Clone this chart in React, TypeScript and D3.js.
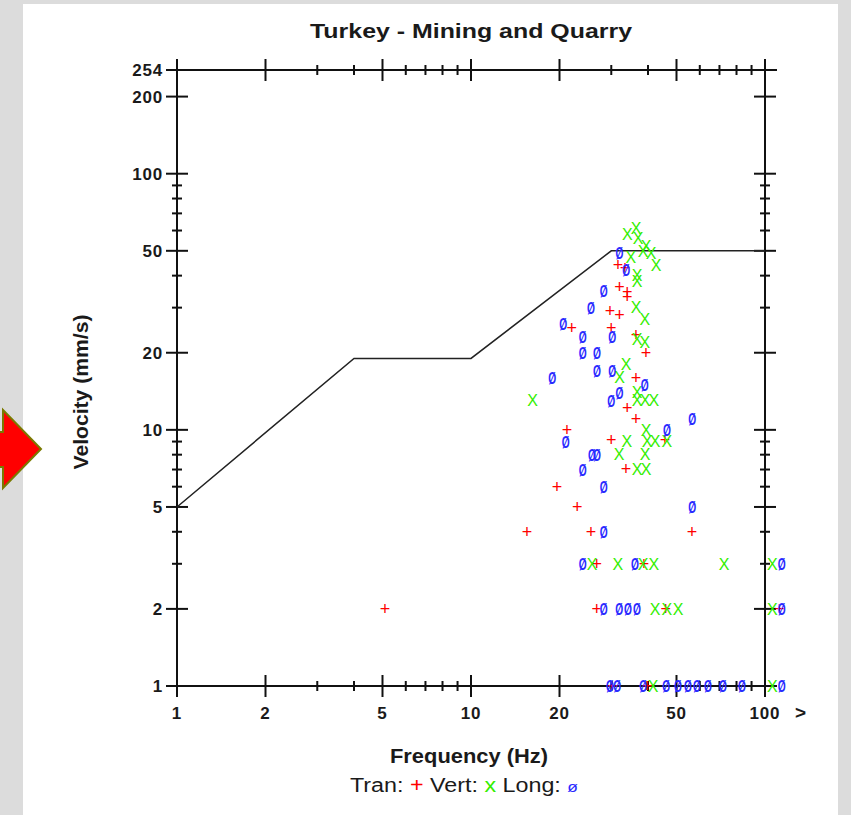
import React from "react";
import * as d3 from "d3";

// Tran (red +)
const tranFreq = [5.1, 15.5, 19.6, 21.2, 22, 23, 25.6, 26.8, 26.8, 29.7, 30, 30, 31.6, 33.4, 32, 34, 34, 32, 36.4, 39.4, 36.4, 34, 36.4, 33.7, 45.7, 56.5, 38.8, 46, 30.2, 39.7, 112];
const tranVel = [2, 4, 6, 10, 25, 5, 4, 3, 2, 29, 25, 9.1, 44, 43, 36, 34.6, 33, 28, 23.5, 20, 16, 12.2, 11, 7, 9.1, 4, 3, 2, 1, 1, 2];

// Vert (green X)
const vertFreq = [34, 36.4, 37, 39.4, 38.5, 41, 42.6, 35, 36.7, 36.7, 36.4, 39, 36.7, 39, 33.7, 32, 16.2, 36.7, 36.7, 39.1, 41.9, 39.4, 33.9, 39.7, 42.3, 46.4, 31.9, 39.1, 36.7, 39.4, 25.8, 31.6, 38.5, 41.9, 72.6, 42.3, 46.4, 50.6, 41.6, 106, 106, 106];
const vertVel = [58, 61, 56, 52, 50, 49, 44, 47, 40, 38, 30, 27, 22.5, 22, 18, 16, 13, 14, 13, 13, 13, 10, 9, 9, 9, 9, 8, 8, 7, 7, 3, 3, 3, 3, 3, 2, 2, 2, 1, 3, 2, 1];

// Long (blue ø)
const longFreq = [32, 33.7, 28.3, 25.6, 20.6, 24, 30.2, 24, 26.8, 26.8, 30.2, 18.9, 39, 32, 30, 56.5, 46.4, 21, 25.8, 26.8, 24, 28.3, 56.5, 28.3, 24, 36.1, 28.3, 31.9, 34.2, 36.7, 29.7, 31.4, 38.5, 46.1, 50.6, 54.7, 58.7, 64, 71.9, 83.5, 114, 114, 114];
const longVel = [49, 42, 35, 30, 26, 23, 23, 20, 20, 17, 17, 16, 15, 14, 13, 11, 10, 9, 8, 8, 7, 6, 5, 4, 3, 3, 2, 2, 2, 2, 1, 1, 1, 1, 1, 1, 1, 1, 1, 1, 3, 2, 1];

// limit curve
const limitFreq = [1, 4, 10, 30, 100];
const limitVel = [5, 19, 19, 50, 50];

const xMajor = [1, 2, 5, 10, 20, 50, 100];
const xMinor = [3, 4, 6, 7, 8, 9, 30, 40, 60, 70, 80, 90];
const yMajor = [1, 2, 5, 10, 20, 50, 100, 200, 254];
const yMinor = [3, 4, 6, 7, 8, 9, 30, 40, 60, 70, 80, 90];

const FONT = "'Liberation Sans', Arial, sans-serif";
const INK = "#1a1a1a";

const App = () => {
  const x = d3.scaleLog().domain([1, 100]).range([177, 765]);
  const y = d3.scaleLog().domain([1, 254]).range([686, 70]);
  const [x0, x1] = x.range();
  const [y0, y1] = y.range();

  const line = d3.line<number>()
    .x((d, i) => x(limitFreq[i]))
    .y(d => y(d));

  const xTick = (v: number, len: number, key: string) => (
    <g key={key}>
      <line x1={x(v)} x2={x(v)} y1={y0 - len} y2={y0 + len} />
      <line x1={x(v)} x2={x(v)} y1={y1 - len} y2={y1 + len} />
    </g>
  );
  const yTick = (v: number, len: number, key: string) => (
    <g key={key}>
      <line x1={x0 - len} x2={x0 + len} y1={y(v)} y2={y(v)} />
      <line x1={x1 - len} x2={x1 + len} y1={y(v)} y2={y(v)} />
    </g>
  );

  return (
    <div style={{ position: "fixed", left: 0, top: 0 }}>
      <svg width={851} height={815} style={{ display: "block" }} fontFamily={FONT}>
        <rect width={851} height={815} fill="#dcdcdc" />
        <rect x={23} y={4} width={815} height={811} fill="#ffffff" />
        <polygon points="-2,432 3,432 3,410 41,449 3,488 3,467 -2,467" fill="#ff0000" stroke="#7a7a00" strokeWidth={2} />

        <text x={471} y={38} textAnchor="middle" fontSize={21} fontWeight="bold" fill={INK}
          textLength={322} lengthAdjust="spacingAndGlyphs">Turkey - Mining and Quarry</text>

        {/* frame */}
        <g stroke="#111" strokeWidth={2} fill="none">
          <rect x={x0} y={y1} width={x1 - x0} height={y0 - y1} />
          <line x1={x1} x2={x1 + 12} y1={y1} y2={y1} />
          <line x1={x1} x2={x1 + 12} y1={y0} y2={y0} />
          {xMajor.map((v, i) => xTick(v, 11, "xM" + i))}
          {xMinor.map((v, i) => xTick(v, 5, "xm" + i))}
          {yMajor.map((v, i) => yTick(v, 11, "yM" + i))}
          {yMinor.map((v, i) => yTick(v, 5, "ym" + i))}
        </g>

        <g fontSize={17} fontWeight="bold" fill={INK} letterSpacing={0.8}>
          {yMajor.map(v => (
            <text key={"yl" + v} x={163} y={y(v)} dy="0.36em" textAnchor="end">{v}</text>
          ))}
          {xMajor.map(v => (
            <text key={"xl" + v} x={x(v)} y={719} textAnchor="middle">{v}</text>
          ))}
          <text x={801} y={719} textAnchor="middle" fontSize={19}>&gt;</text>
        </g>

        <path d={line(limitVel) || ""} fill="none" stroke="#222" strokeWidth={1.5} />

        <g fontSize={18} fill="#ff0000" textAnchor="middle">
          {tranFreq.map((f, i) => (
            <text key={"t" + i} x={x(f)} y={y(tranVel[i])} dy="0.33em">+</text>
          ))}
        </g>
        <g fontSize={16} fill="#33ee00" textAnchor="middle">
          {vertFreq.map((f, i) => (
            <text key={"v" + i} x={x(f)} y={y(vertVel[i])} dy="0.36em">X</text>
          ))}
        </g>
        <g fontSize={17} fontWeight="bold" fill="#2a2aff" textAnchor="middle">
          {longFreq.map((f, i) => (
            <text key={"l" + i} transform={`translate(${x(f)},${y(longVel[i])}) scale(0.6,1)`} dy="0.36em">Ø</text>
          ))}
        </g>

        <text transform="translate(88,392) rotate(-90)" textAnchor="middle" fontSize={20} fontWeight="bold" fill={INK}
          textLength={155} lengthAdjust="spacingAndGlyphs">Velocity (mm/s)</text>
        <text x={469} y={763} textAnchor="middle" fontSize={20} fontWeight="bold" fill={INK}
          textLength={158} lengthAdjust="spacingAndGlyphs">Frequency (Hz)</text>
        <text x={464} y={792} textAnchor="middle" fontSize={20} fill={INK}
          textLength={228} lengthAdjust="spacingAndGlyphs">
          Tran: <tspan fill="#ff0000">+</tspan> Vert: <tspan fill="#33ee00">x</tspan> Long: <tspan fill="#2a2aff" fontSize={15}>ø</tspan>
        </text>
      </svg>
    </div>
  );
};

export default App;
